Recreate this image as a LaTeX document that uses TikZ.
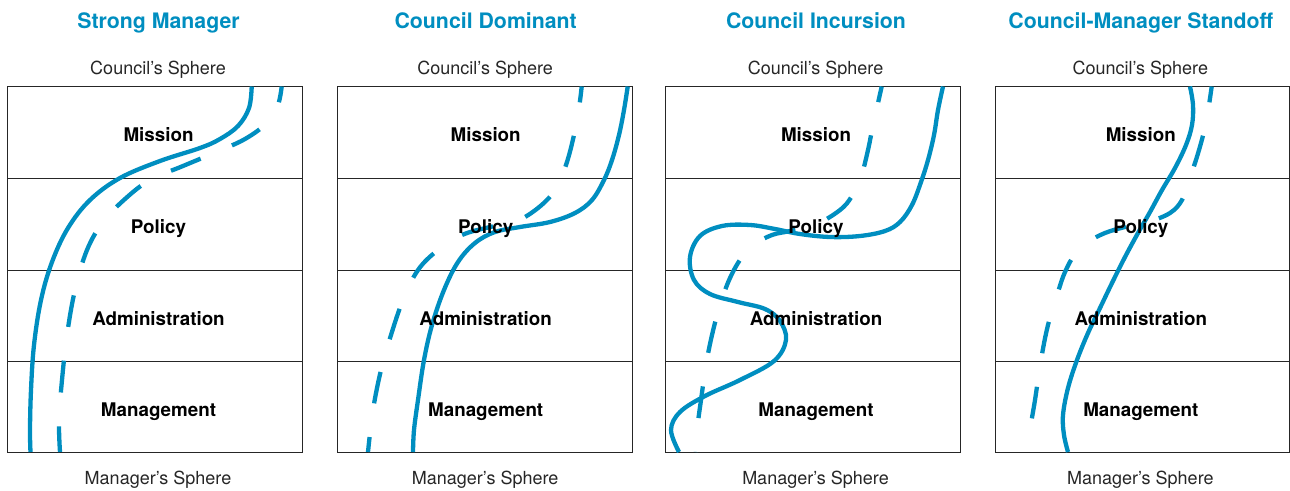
\documentclass[tikz,border=0pt]{standalone}
\usepackage{fontspec}
\setmainfont{TeX Gyre Heros}
\definecolor{cblue}{RGB}{0,142,192}
\begin{document}
\begin{tikzpicture}[x=1pt,y=-1pt,
  titletext/.style={font=\fontsize{21.3}{25}\selectfont\bfseries, text=cblue, anchor=base, inner sep=0pt},
  spheretext/.style={font=\fontsize{18}{22}\selectfont, text=black!85, anchor=base, inner sep=0pt},
  lvltext/.style={font=\fontsize{18.8}{22}\selectfont\bfseries, anchor=base, inner sep=0pt},
  rowbox/.style={draw=black!85, line width=1pt},
  solidcurve/.style={draw=cblue, line width=4.3pt},
  dashcurve/.style={draw=cblue, line width=4.3pt, dash pattern=on 32pt off 34pt, dash phase=16pt}]
\useasboundingbox (0,0) rectangle (1290,490);

% boxes
\foreach \L/\W in {7.5/294.5, 337.5/294.5, 665.5/294.5, 995.5/294}{
  \draw[rowbox] (\L,86.5) rectangle ++(\W,365.5);
  \draw[rowbox] (\L,178) -- ++(\W,0);
  \draw[rowbox] (\L,270.5) -- ++(\W,0);
  \draw[rowbox] (\L,361.5) -- ++(\W,0);
}

% Panel 1: Strong Manager
\draw[solidcurve] plot[smooth, tension=0.6] coordinates {(251.7,86.5) (249,108) (238,126) (220,139) (200,148) (160,161) (120,178) (90,200) (68,228) (52,262) (41,300) (34,345) (31,390) (30,430) (30.5,452)};
\draw[dashcurve] plot[smooth, tension=0.6] coordinates {(281.7,86.5) (278,105) (268,122) (245,139) (214,153) (183,166) (150,180) (125,199) (103,222) (87,250) (75,290) (67,335) (62,380) (59,420) (60,452)};

% Panel 2: Council Dominant
\draw[solidcurve] plot[smooth, tension=0.6] coordinates {(627.7,86.5) (624,110) (619,135) (612,160) (604,180) (592,200) (575,213) (550,222) (520,227) (495,232) (475,243) (458,262) (444,290) (432,325) (424,360) (418,400) (414,430) (413,452)};
\draw[dashcurve] plot[smooth, tension=0.6] coordinates {(581.7,86.5) (579,108) (574,135) (566,165) (555,190) (538,208) (515,222) (490,227) (462,235) (438,250) (418,270) (403,300) (391,335) (381,370) (373,410) (368,452)};

% Panel 3: Council Incursion
\draw[solidcurve] plot[smooth, tension=0.6] coordinates {(943,86.5) (938,110) (934,135) (928,160) (921,182) (912,205) (900,222) (885,231) (860,236) (830,237) (800,234) (775,229) (750,225) (722,226) (700,236) (690,257) (694,280) (710,294) (738,302) (765,309) (780,321) (786,340) (774,361) (740,380) (705,396) (680,412) (671,430) (679,452)};
\draw[dashcurve] plot[smooth, tension=0.6] coordinates {(881.7,86.5) (878,103) (873,125) (868,150) (861,177) (852,196) (840,210) (815,225) (790,231) (772,235) (755,244) (742,257) (730,278) (720,305) (712,335) (706,365) (701,400) (697,430) (695.7,452)};

% Panel 4: Council-Manager Standoff
\draw[solidcurve] plot[smooth, tension=0.6] coordinates {(1190,86.5) (1193,105) (1192,125) (1186,145) (1175,168) (1162,190) (1150,212) (1138,233) (1125,257) (1112,283) (1100,308) (1088,333) (1077,360) (1068,388) (1063,415) (1064,435) (1068,452)};
\draw[dashcurve] plot[smooth, tension=0.6] coordinates {(1211.7,86.5) (1209,105) (1206,123) (1201,143) (1195,163) (1189,180) (1182,200) (1170,213) (1148,222) (1125,227) (1105,233) (1088,242) (1075,254) (1065,272) (1058,292) (1048,325) (1041,360) (1035,400) (1030,430) (1028,452)};

% texts
\foreach \C/\T [count=\i] in {158.5/Strong Manager, 485.7/Council Dominant, 816/Council Incursion, 1140.8/Council-Manager Standoff}{
  \node[titletext] (title\i) at (\C,28.3) {\T};
  \node[spheretext] (council\i) at (\C-0.5,74) {Council’s Sphere};
  \node[spheretext] (manager\i) at (\C-0.5,484) {Manager’s Sphere};
  \node[lvltext] (mission\i) at (\C,141.7) {Mission};
  \node[lvltext] (policy\i) at (\C,233.3) {Policy};
  \node[lvltext] (admin\i) at (\C,325) {Administration};
  \node[lvltext] (mgmt\i) at (\C,416) {Management};
}
\end{tikzpicture}
\end{document}
